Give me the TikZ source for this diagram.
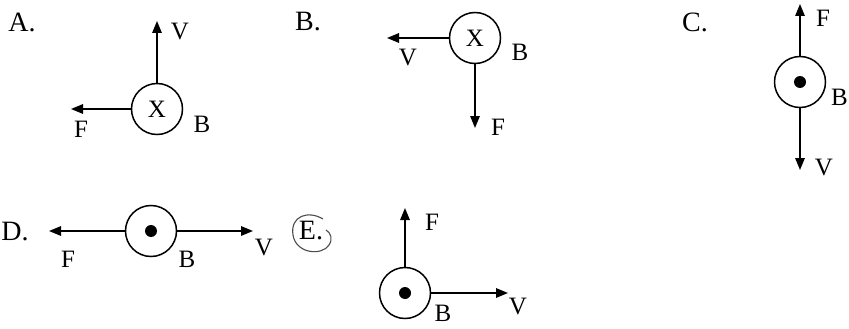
\documentclass[tikz,border=0pt]{standalone}
\usepackage{fontspec}
\setmainfont{Liberation Serif}
\usetikzlibrary{arrows.meta}
\begin{document}
\begin{tikzpicture}[x=1pt,y=-1pt,
  wire/.style={circle,draw,line width=1.5pt,minimum size=51pt,inner sep=0pt},
  vec/.style={line width=1.5pt,-{Triangle[length=12pt,width=9.5pt]}},
  lab/.style={font=\fontsize{25}{25}\selectfont,inner sep=0pt},
  opt/.style={font=\fontsize{28}{28}\selectfont,inner sep=0pt},
  dotc/.style={circle,fill,minimum size=12pt,inner sep=0pt}]
\useasboundingbox[fill=white] (0,0) rectangle (849,329);
% A
\node[opt] (la) at (22,22) {A.};
\node[wire,font=\fontsize{25}{25}\selectfont] (ca) at (157,109) {X};
\coordinate (av) at (157,21);
\coordinate (af) at (71,109);
\draw[vec] (ca.north) -- (av);
\draw[vec] (ca.west) -- (af);
\node[lab] (lav) at (180,32) {V};
\node[lab] (laf) at (81,129) {F};
\node[lab] (lab) at (202,124) {B};
% B
\node[opt] (lb) at (308,22) {B.};
\node[wire,font=\fontsize{25}{25}\selectfont] (cb) at (475,38) {X};
\coordinate (bv) at (387,38);
\coordinate (bf) at (475,128);
\draw[vec] (cb.west) -- (bv);
\draw[vec] (cb.south) -- (bf);
\node[lab] (lbv) at (408,58) {V};
\node[lab] (lbf) at (498,127) {F};
\node[lab] (lbb) at (520,52) {B};
% C
\node[opt] (lc) at (695,22) {C.};
\node[wire] (cc) at (800,82) {};
\node[dotc] (dc) at (cc) {};
\coordinate (cf) at (800,4);
\coordinate (cv) at (800,170);
\draw[vec] (cc.north) -- (cf);
\draw[vec] (cc.south) -- (cv);
\node[lab] (lcf) at (823,18) {F};
\node[lab] (lcv) at (824,168) {V};
\node[lab,anchor=east] (lcb) at (848,97) {B};
% D
\node[opt] (ld) at (15,232) {D.};
\node[wire] (cd) at (151,231) {};
\node[dotc] (dd) at (cd) {};
\coordinate (df) at (49,231);
\coordinate (dv) at (253,231);
\draw[vec] (cd.west) -- (df);
\draw[vec] (cd.east) -- (dv);
\node[lab] (ldf) at (68,259) {F};
\node[lab] (ldv) at (264,248) {V};
\node[lab] (ldb) at (187,259) {B};
% E
\node[opt] (le) at (311,231) {E.};
\draw[gray!60!black,line width=1.1pt] (323,219) .. controls (308,210) and (290,216) .. (293,235)
  .. controls (296,254) and (322,256) .. (329,245) .. controls (333,239) and (331,233) .. (326,230);
\node[wire] (ce) at (405,293) {};
\node[dotc] (de) at (ce) {};
\coordinate (ef) at (405,208);
\coordinate (ev) at (508,293);
\draw[vec] (ce.north) -- (ef);
\draw[vec] (ce.east) -- (ev);
\node[lab] (lev) at (518,307) {V};
\node[lab] (lef) at (432,222) {F};
\node[lab] (leb) at (443,313) {B};
\end{tikzpicture}
\end{document}
